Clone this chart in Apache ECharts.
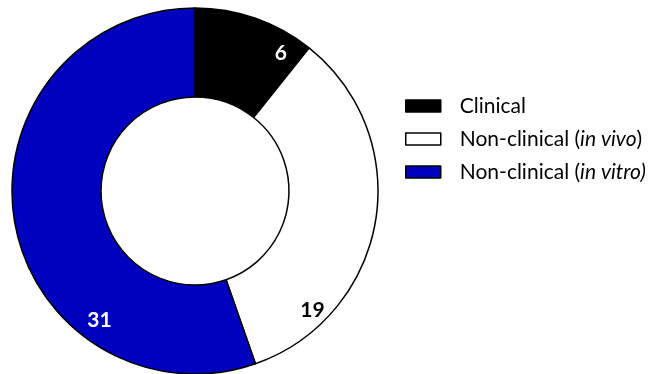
<!DOCTYPE html>
<html>
<head>
<meta charset="utf-8">
<script src="https://cdn.jsdelivr.net/npm/echarts@6/dist/echarts.min.js"></script>
<style>
  html, body { margin: 0; padding: 0; background: #fff; }
  #chart { width: 656px; height: 374px; }
</style>
</head>
<body>
<div id="chart"></div>
<script>
// Study types and counts
const categories = ['Clinical', 'Non-clinical (in vivo)', 'Non-clinical (in vitro)'];
const counts = [6, 19, 31];
const sliceColors = ['#000000', '#ffffff', '#0000bf'];
const labelColors = ['#ffffff', '#000000', '#ffffff'];
// Nudges for the value labels away from the ring midline
const labelOffsets = [[39, -4], [-22, 96], [44, 106]];

// Legend text: the method part in parentheses is set in italics
const legendText = {
  'Clinical': 'Clinical',
  'Non-clinical (in vivo)': 'Non-clinical ({i|in vivo})',
  'Non-clinical (in vitro)': 'Non-clinical ({i|in vitro)}'
};

const chart = echarts.init(document.getElementById('chart'), null, { renderer: 'canvas' });

chart.setOption({
  animation: false,
  backgroundColor: '#ffffff',
  legend: {
    orient: 'vertical',
    left: 400,
    top: 90,
    itemWidth: 35,
    itemHeight: 12,
    itemGap: 11,
    icon: 'rect',
    selectedMode: false,
    itemStyle: { borderColor: '#000', borderWidth: 1.5 },
    formatter: name => legendText[name],
    textStyle: {
      fontFamily: 'Lato',
      fontSize: 21,
      color: '#000',
      lineHeight: 22,
      padding: [0, 0, 0, 14],
      rich: {
        i: { fontFamily: 'Lato', fontSize: 21, fontStyle: 'italic', color: '#000', lineHeight: 22 }
      }
    },
    data: categories
  },
  series: [{
    type: 'pie',
    center: [195, 191],
    radius: [94, 183],
    startAngle: 90,
    clockwise: true,
    avoidLabelOverlap: false,
    emphasis: { disabled: true },
    itemStyle: { borderColor: '#000', borderWidth: 1.5 },
    label: {
      show: true,
      position: 'inside',
      formatter: '{c}',
      fontFamily: 'Lato',
      fontWeight: 'bold',
      fontSize: 21
    },
    labelLine: { show: false },
    data: categories.map((name, i) => ({
      name: name,
      value: counts[i],
      itemStyle: { color: sliceColors[i] },
      label: { color: labelColors[i], offset: labelOffsets[i] }
    }))
  }]
});
</script>
</body>
</html>
